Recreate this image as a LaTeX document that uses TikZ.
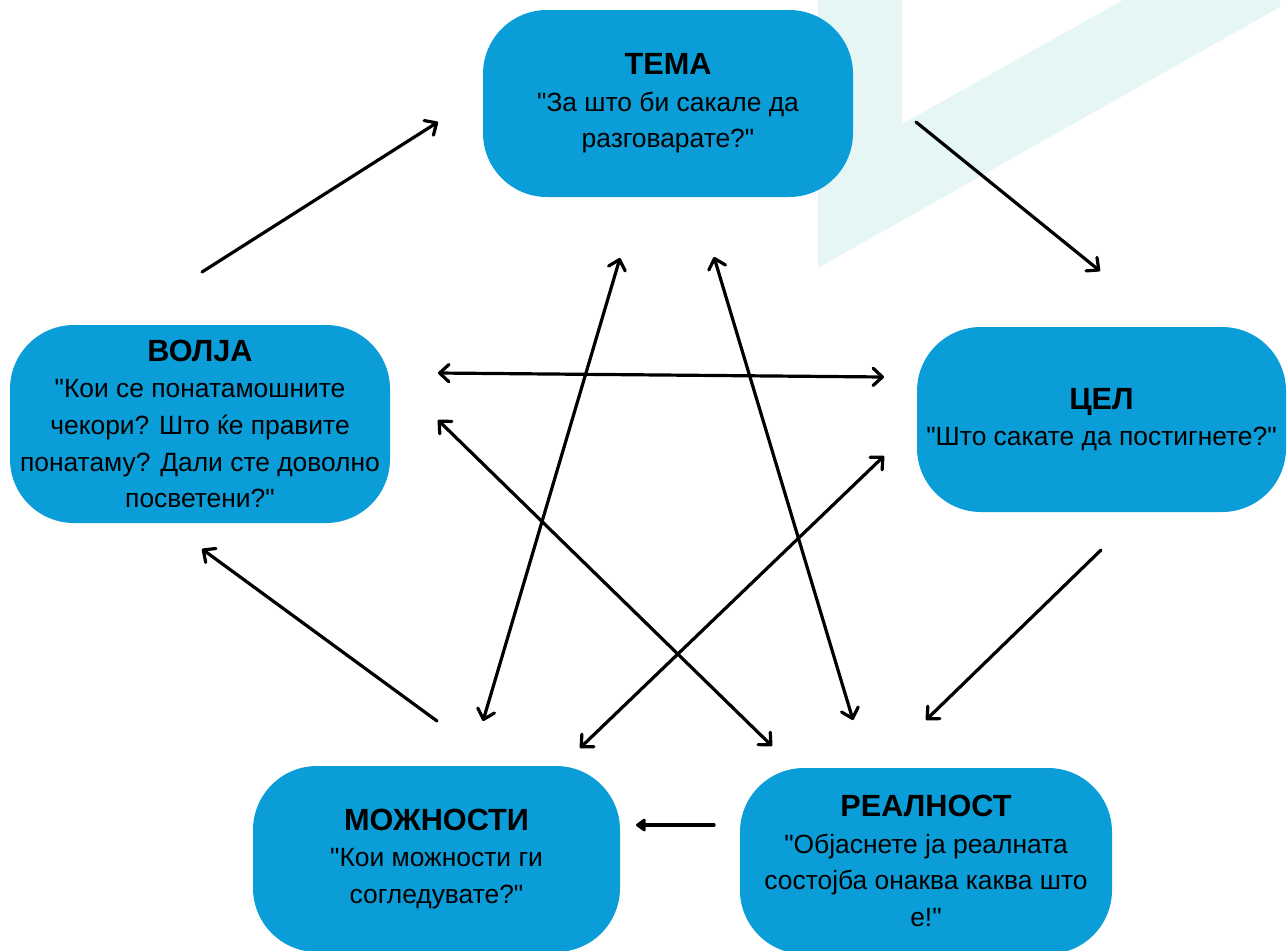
\documentclass[tikz,border=0pt]{standalone}
\usepackage{fontspec}
\setmainfont{Liberation Sans}[Ligatures=TeXOff]
\usetikzlibrary{arrows.meta}
\definecolor{boxblue}{RGB}{10,157,216}
\definecolor{bgteal}{RGB}{229,246,245}
\tikzset{
  stagebox/.style={fill=boxblue, draw=none, rounded corners=48pt, align=center,
    inner sep=0pt, font=\fontsize{19.8}{27.5}\selectfont, text=black},
  barb/.tip={Straight Barb[length=7pt,width=13pt,line cap=round,line join=round]},
  conn/.style={line width=2.4pt, line cap=round, line join=round, -barb},
  biconn/.style={line width=2.4pt, line cap=round, line join=round, barb-barb},
  fconn/.style={line width=2.4pt, line cap=round, line join=round,
    -{Triangle[length=8pt,width=11pt,round]}}
}
\newcommand{\ttlline}[1]{{\fontsize{23}{27.5}\selectfont\bfseries #1}}
\begin{document}
\begin{tikzpicture}[x=0.75pt,y=-0.75pt]
\useasboundingbox (0,0) rectangle (1287,950);
\clip (0,0) rectangle (1287,950);
% background shape
\fill[bgteal] (818,0) -- (902,0) -- (902,124) -- (1123,0) -- (1280,0) -- (1280,7) -- (818,268) -- cycle;
% boxes
\node[stagebox, minimum width=370*0.75pt, minimum height=187*0.75pt] (tema) at (668,103.5)
  {\ttlline{ТЕМА}\\"За што би сакале да\\разговарате?"};
\node[stagebox, minimum width=380*0.75pt, minimum height=198*0.75pt] (volja) at (200,424)
  {\ttlline{ВОЛЈА}\\"Кои се понатамошните\\чекори? Што ќе правите\\понатаму? Дали сте доволно\\посветени?"};
\node[stagebox, minimum width=369*0.75pt, minimum height=185*0.75pt] (cel) at (1101.5,419.5)
  {\ttlline{ЦЕЛ}\\"Што сакате да постигнете?"};
\node[stagebox, minimum width=367*0.75pt, minimum height=186*0.75pt] (mozh) at (436.5,859)
  {\ttlline{МОЖНОСТИ}\\"Кои можности ги\\согледувате?"};
\node[stagebox, minimum width=372*0.75pt, minimum height=186*0.75pt] (real) at (926,861)
  {\ttlline{РЕАЛНОСТ}\\"Објаснете ја реалната\\состојба онаква каква што\\е!"};
% connector end points
\coordinate (a1) at (202,272); \coordinate (b1) at (438,122);
\coordinate (a2) at (916,122); \coordinate (b2) at (1100,271);
\coordinate (a3) at (1101,550); \coordinate (b3) at (926,720);
\coordinate (a4) at (714,825); \coordinate (b4) at (636,825);
\coordinate (a5) at (437,721); \coordinate (b5) at (202,549);
\coordinate (a6) at (438,373); \coordinate (b6) at (884,377);
\coordinate (a7) at (438,420); \coordinate (b7) at (772,746);
\coordinate (a8) at (884,456); \coordinate (b8) at (580,748);
\coordinate (a9) at (620,258); \coordinate (b9) at (483,721);
\coordinate (a10) at (714,257); \coordinate (b10) at (853,720);
% cycle arrows
\draw[conn] (a1) -- (b1);
\draw[conn] (a2) -- (b2);
\draw[conn] (a3) -- (b3);
\draw[fconn] (a4) -- (b4);
\draw[conn] (a5) -- (b5);
% cross arrows
\draw[biconn] (a6) -- (b6);
\draw[biconn] (a7) -- (b7);
\draw[biconn] (a8) -- (b8);
\draw[biconn] (a9) -- (b9);
\draw[biconn] (a10) -- (b10);
\end{tikzpicture}
\end{document}
